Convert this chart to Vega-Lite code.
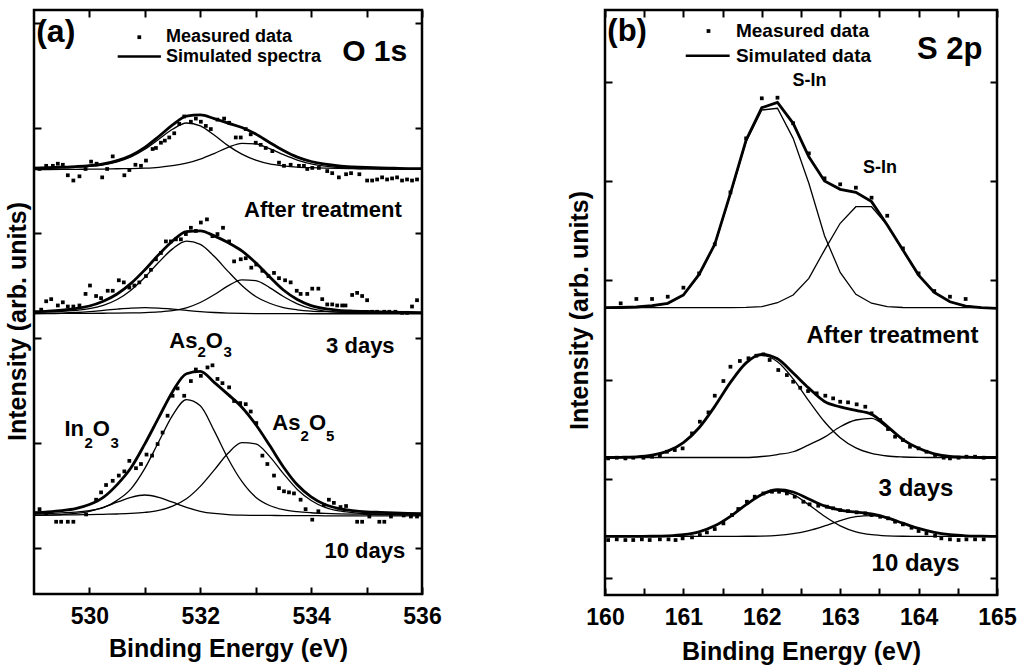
{
  "$schema": "https://vega.github.io/schema/vega-lite/v6.json",
  "background": "white",
  "padding": {"left": 3, "top": 7, "right": 5, "bottom": 5},
  "spacing": 122,
  "config": {
    "font": "Liberation Sans",
    "view": {"stroke": "black", "strokeWidth": 2.5},
    "axis": {"domain": false, "grid": false, "ticks": true, "tickColor": "black", "tickWidth": 2, "tickSize": -7, "labelFont": "Liberation Sans", "labelFontWeight": "bold", "labelFontSize": 23, "labelColor": "black", "titleFont": "Liberation Sans", "titleFontWeight": "bold", "titleFontSize": 25, "titleColor": "black", "labelOverlap": false, "labelFlush": false},
    "text": {"font": "Liberation Sans", "fontWeight": "bold", "color": "black"}
  },
  "datasets": {
    "aL": [
      {"s":"t","x":529,"e":3.618,"c1":3.614,"c2":3.604},
      {"s":"t","x":529.25,"e":3.622,"c1":3.617,"c2":3.605},
      {"s":"t","x":529.5,"e":3.627,"c1":3.621,"c2":3.606},
      {"s":"t","x":529.75,"e":3.633,"c1":3.626,"c2":3.607},
      {"s":"t","x":530,"e":3.642,"c1":3.634,"c2":3.608},
      {"s":"t","x":530.25,"e":3.659,"c1":3.650,"c2":3.609},
      {"s":"t","x":530.5,"e":3.690,"c1":3.678,"c2":3.612},
      {"s":"t","x":530.75,"e":3.739,"c1":3.725,"c2":3.614},
      {"s":"t","x":531,"e":3.816,"c1":3.798,"c2":3.618},
      {"s":"t","x":531.25,"e":3.919,"c1":3.893,"c2":3.626},
      {"s":"t","x":531.5,"e":4.029,"c1":3.988,"c2":3.641},
      {"s":"t","x":531.75,"e":4.113,"c1":4.048,"c2":3.665},
      {"s":"t","x":532,"e":4.125,"c1":4.021,"c2":3.704},
      {"s":"t","x":532.25,"e":4.090,"c1":3.933,"c2":3.757},
      {"s":"t","x":532.5,"e":4.047,"c1":3.832,"c2":3.815},
      {"s":"t","x":532.75,"e":4.005,"c1":3.751,"c2":3.854},
      {"s":"t","x":533,"e":3.943,"c1":3.694,"c2":3.849},
      {"s":"t","x":533.25,"e":3.862,"c1":3.658,"c2":3.804},
      {"s":"t","x":533.5,"e":3.786,"c1":3.640,"c2":3.746},
      {"s":"t","x":533.75,"e":3.723,"c1":3.628,"c2":3.695},
      {"s":"t","x":534,"e":3.681,"c1":3.622,"c2":3.659},
      {"s":"t","x":534.25,"e":3.655,"c1":3.618,"c2":3.637},
      {"s":"t","x":534.5,"e":3.639,"c1":3.615,"c2":3.624},
      {"s":"t","x":534.75,"e":3.630,"c1":3.613,"c2":3.617},
      {"s":"t","x":535,"e":3.624,"c1":3.611,"c2":3.613},
      {"s":"t","x":535.25,"e":3.620,"c1":3.609,"c2":3.611},
      {"s":"t","x":535.5,"e":3.617,"c1":3.608,"c2":3.609},
      {"s":"t","x":535.75,"e":3.614,"c1":3.607,"c2":3.607},
      {"s":"t","x":536,"e":3.613,"c1":3.606,"c2":3.607},
      {"s":"m","x":529,"e":2.252,"c1":2.246,"c2":2.233,"c3":2.233},
      {"s":"m","x":529.25,"e":2.257,"c1":2.249,"c2":2.233,"c3":2.235},
      {"s":"m","x":529.5,"e":2.266,"c1":2.254,"c2":2.234,"c3":2.238},
      {"s":"m","x":529.75,"e":2.281,"c1":2.264,"c2":2.234,"c3":2.243},
      {"s":"m","x":530,"e":2.305,"c1":2.279,"c2":2.235,"c3":2.251},
      {"s":"m","x":530.25,"e":2.350,"c1":2.311,"c2":2.236,"c3":2.263},
      {"s":"m","x":530.5,"e":2.419,"c1":2.367,"c2":2.237,"c3":2.275},
      {"s":"m","x":530.75,"e":2.520,"c1":2.456,"c2":2.239,"c3":2.285},
      {"s":"m","x":531,"e":2.650,"c1":2.578,"c2":2.242,"c3":2.290},
      {"s":"m","x":531.25,"e":2.794,"c1":2.721,"c2":2.248,"c3":2.285},
      {"s":"m","x":531.5,"e":2.924,"c1":2.849,"c2":2.260,"c3":2.275},
      {"s":"m","x":531.75,"e":3.014,"c1":2.923,"c2":2.288,"c3":2.263},
      {"s":"m","x":532,"e":3.021,"c1":2.892,"c2":2.338,"c3":2.251},
      {"s":"m","x":532.25,"e":2.973,"c1":2.778,"c2":2.412,"c3":2.243},
      {"s":"m","x":532.5,"e":2.909,"c1":2.635,"c2":2.496,"c3":2.238},
      {"s":"m","x":532.75,"e":2.830,"c1":2.501,"c2":2.554,"c3":2.235},
      {"s":"m","x":533,"e":2.716,"c1":2.396,"c2":2.547,"c3":2.233},
      {"s":"m","x":533.25,"e":2.583,"c1":2.331,"c2":2.480,"c3":2.232},
      {"s":"m","x":533.5,"e":2.457,"c1":2.290,"c2":2.395,"c3":2.232},
      {"s":"m","x":533.75,"e":2.367,"c1":2.269,"c2":2.326,"c3":2.232},
      {"s":"m","x":534,"e":2.309,"c1":2.257,"c2":2.281,"c3":2.231},
      {"s":"m","x":534.25,"e":2.279,"c1":2.251,"c2":2.257,"c3":2.231},
      {"s":"m","x":534.5,"e":2.264,"c1":2.247,"c2":2.246,"c3":2.231},
      {"s":"m","x":534.75,"e":2.257,"c1":2.245,"c2":2.241,"c3":2.231},
      {"s":"m","x":535,"e":2.253,"c1":2.243,"c2":2.239,"c3":2.231},
      {"s":"m","x":535.25,"e":2.248,"c1":2.241,"c2":2.237,"c3":2.231},
      {"s":"m","x":535.5,"e":2.246,"c1":2.240,"c2":2.236,"c3":2.231},
      {"s":"m","x":535.75,"e":2.243,"c1":2.238,"c2":2.235,"c3":2.231},
      {"s":"m","x":536,"e":2.242,"c1":2.238,"c2":2.234,"c3":2.231},
      {"s":"b","x":529,"e":0.337,"c1":0.324,"c2":0.312,"c3":0.311},
      {"s":"b","x":529.25,"e":0.345,"c1":0.328,"c2":0.314,"c3":0.313},
      {"s":"b","x":529.5,"e":0.357,"c1":0.334,"c2":0.315,"c3":0.318},
      {"s":"b","x":529.75,"e":0.376,"c1":0.341,"c2":0.316,"c3":0.329},
      {"s":"b","x":530,"e":0.414,"c1":0.356,"c2":0.318,"c3":0.350},
      {"s":"b","x":530.25,"e":0.482,"c1":0.384,"c2":0.321,"c3":0.387},
      {"s":"b","x":530.5,"e":0.604,"c1":0.454,"c2":0.324,"c3":0.436},
      {"s":"b","x":530.75,"e":0.764,"c1":0.563,"c2":0.329,"c3":0.482},
      {"s":"b","x":531,"e":0.992,"c1":0.758,"c2":0.339,"c3":0.505},
      {"s":"b","x":531.25,"e":1.242,"c1":1.012,"c2":0.358,"c3":0.482},
      {"s":"b","x":531.5,"e":1.489,"c1":1.264,"c2":0.399,"c3":0.436},
      {"s":"b","x":531.75,"e":1.660,"c1":1.414,"c2":0.469,"c3":0.387},
      {"s":"b","x":532,"e":1.682,"c1":1.355,"c2":0.587,"c3":0.350},
      {"s":"b","x":532.25,"e":1.578,"c1":1.118,"c2":0.741,"c3":0.329},
      {"s":"b","x":532.5,"e":1.463,"c1":0.853,"c2":0.902,"c3":0.318},
      {"s":"b","x":532.75,"e":1.341,"c1":0.634,"c2":1.004,"c3":0.313},
      {"s":"b","x":533,"e":1.176,"c1":0.484,"c2":0.991,"c3":0.311},
      {"s":"b","x":533.25,"e":0.978,"c1":0.405,"c2":0.873,"c3":0.310},
      {"s":"b","x":533.5,"e":0.772,"c1":0.365,"c2":0.708,"c3":0.309},
      {"s":"b","x":533.75,"e":0.602,"c1":0.346,"c2":0.558,"c3":0.308},
      {"s":"b","x":534,"e":0.487,"c1":0.336,"c2":0.453,"c3":0.308},
      {"s":"b","x":534.25,"e":0.414,"c1":0.330,"c2":0.387,"c3":0.307},
      {"s":"b","x":534.5,"e":0.376,"c1":0.326,"c2":0.353,"c3":0.307},
      {"s":"b","x":534.75,"e":0.357,"c1":0.323,"c2":0.337,"c3":0.307},
      {"s":"b","x":535,"e":0.345,"c1":0.321,"c2":0.327,"c3":0.307},
      {"s":"b","x":535.25,"e":0.339,"c1":0.318,"c2":0.324,"c3":0.307},
      {"s":"b","x":535.5,"e":0.334,"c1":0.317,"c2":0.320,"c3":0.307},
      {"s":"b","x":535.75,"e":0.330,"c1":0.315,"c2":0.318,"c3":0.307},
      {"s":"b","x":536,"e":0.327,"c1":0.314,"c2":0.316,"c3":0.307}
    ],
    "aM": [
      {"x":529.10,"y":3.61},{"x":529.22,"y":3.64},{"x":529.34,"y":3.64},{"x":529.43,"y":3.66},{"x":529.52,"y":3.65},{"x":529.61,"y":3.55},{"x":529.71,"y":3.50},{"x":529.82,"y":3.54},{"x":529.93,"y":3.61},{"x":530.03,"y":3.68},{"x":530.13,"y":3.66},{"x":530.23,"y":3.53},{"x":530.32,"y":3.61},{"x":530.42,"y":3.73},{"x":530.63,"y":3.55},{"x":530.72,"y":3.60},{"x":530.83,"y":3.65},{"x":530.93,"y":3.64},{"x":531.02,"y":3.69},{"x":531.14,"y":3.80},{"x":531.20,"y":3.81},{"x":531.29,"y":3.86},{"x":531.36,"y":3.88},{"x":531.44,"y":3.91},{"x":531.53,"y":3.95},{"x":531.62,"y":4.04},{"x":531.71,"y":4.11},{"x":531.83,"y":4.06},{"x":531.92,"y":4.09},{"x":532.01,"y":4.06},{"x":532.10,"y":4.02},{"x":532.19,"y":3.99},{"x":532.31,"y":4.08},{"x":532.43,"y":4.09},{"x":532.52,"y":4.05},{"x":532.64,"y":3.91},{"x":532.73,"y":3.91},{"x":532.82,"y":3.99},{"x":532.91,"y":3.94},{"x":533.00,"y":3.86},{"x":533.09,"y":3.84},{"x":533.18,"y":3.81},{"x":533.30,"y":3.78},{"x":533.42,"y":3.67},{"x":533.51,"y":3.64},{"x":533.63,"y":3.65},{"x":533.78,"y":3.64},{"x":533.87,"y":3.64},{"x":533.93,"y":3.61},{"x":534.02,"y":3.62},{"x":534.14,"y":3.62},{"x":534.29,"y":3.59},{"x":534.38,"y":3.57},{"x":534.50,"y":3.53},{"x":534.63,"y":3.56},{"x":534.72,"y":3.57},{"x":534.87,"y":3.56},{"x":535.01,"y":3.50},{"x":535.10,"y":3.50},{"x":535.19,"y":3.51},{"x":535.28,"y":3.53},{"x":535.37,"y":3.51},{"x":535.46,"y":3.52},{"x":535.55,"y":3.53},{"x":535.64,"y":3.50},{"x":535.73,"y":3.51},{"x":535.82,"y":3.50},{"x":535.91,"y":3.51},
      {"x":529.13,"y":2.27},{"x":529.22,"y":2.35},{"x":529.31,"y":2.37},{"x":529.43,"y":2.31},{"x":529.52,"y":2.34},{"x":529.61,"y":2.30},{"x":529.71,"y":2.30},{"x":529.82,"y":2.31},{"x":529.93,"y":2.42},{"x":530.01,"y":2.50},{"x":530.12,"y":2.40},{"x":530.21,"y":2.38},{"x":530.33,"y":2.45},{"x":530.42,"y":2.45},{"x":530.53,"y":2.55},{"x":530.62,"y":2.53},{"x":530.72,"y":2.48},{"x":530.81,"y":2.50},{"x":530.90,"y":2.53},{"x":531.02,"y":2.59},{"x":531.11,"y":2.65},{"x":531.20,"y":2.75},{"x":531.29,"y":2.81},{"x":531.38,"y":2.92},{"x":531.47,"y":2.92},{"x":531.56,"y":2.94},{"x":531.65,"y":2.94},{"x":531.74,"y":2.99},{"x":531.83,"y":3.05},{"x":531.92,"y":3.02},{"x":532.01,"y":3.10},{"x":532.12,"y":3.13},{"x":532.22,"y":2.97},{"x":532.31,"y":2.99},{"x":532.41,"y":3.05},{"x":532.52,"y":2.92},{"x":532.61,"y":2.73},{"x":532.73,"y":2.75},{"x":532.82,"y":2.76},{"x":532.92,"y":2.67},{"x":533.01,"y":2.70},{"x":533.12,"y":2.64},{"x":533.23,"y":2.59},{"x":533.33,"y":2.62},{"x":533.42,"y":2.57},{"x":533.53,"y":2.55},{"x":533.63,"y":2.53},{"x":533.74,"y":2.45},{"x":533.81,"y":2.42},{"x":533.93,"y":2.42},{"x":534.02,"y":2.47},{"x":534.13,"y":2.47},{"x":534.20,"y":2.37},{"x":534.29,"y":2.32},{"x":534.38,"y":2.32},{"x":534.47,"y":2.31},{"x":534.56,"y":2.31},{"x":534.62,"y":2.31},{"x":534.74,"y":2.41},{"x":534.83,"y":2.43},{"x":534.92,"y":2.40},{"x":535.01,"y":2.36},{"x":535.10,"y":2.25},{"x":535.19,"y":2.25},{"x":535.32,"y":2.25},{"x":535.41,"y":2.25},{"x":535.52,"y":2.25},{"x":535.64,"y":2.24},{"x":535.73,"y":2.24},{"x":535.82,"y":2.30},{"x":535.91,"y":2.36},
      {"x":529.10,"y":0.37},{"x":529.22,"y":0.33},{"x":529.40,"y":0.25},{"x":529.49,"y":0.25},{"x":529.61,"y":0.25},{"x":529.71,"y":0.25},{"x":529.94,"y":0.32},{"x":530.12,"y":0.46},{"x":530.21,"y":0.53},{"x":530.30,"y":0.60},{"x":530.42,"y":0.64},{"x":530.53,"y":0.69},{"x":530.63,"y":0.73},{"x":530.72,"y":0.83},{"x":530.84,"y":0.76},{"x":530.93,"y":0.80},{"x":531.03,"y":0.89},{"x":531.13,"y":0.88},{"x":531.23,"y":0.99},{"x":531.32,"y":1.10},{"x":531.41,"y":1.26},{"x":531.50,"y":1.45},{"x":531.59,"y":1.52},{"x":531.71,"y":1.45},{"x":531.83,"y":1.59},{"x":531.92,"y":1.70},{"x":532.01,"y":1.64},{"x":532.13,"y":1.72},{"x":532.22,"y":1.74},{"x":532.31,"y":1.61},{"x":532.40,"y":1.57},{"x":532.52,"y":1.53},{"x":532.61,"y":1.40},{"x":532.72,"y":1.38},{"x":532.82,"y":1.37},{"x":532.91,"y":1.30},{"x":533.01,"y":1.19},{"x":533.12,"y":0.88},{"x":533.21,"y":0.80},{"x":533.33,"y":0.69},{"x":533.42,"y":0.57},{"x":533.51,"y":0.54},{"x":533.60,"y":0.53},{"x":533.69,"y":0.52},{"x":533.81,"y":0.46},{"x":533.90,"y":0.37},{"x":534.02,"y":0.27},{"x":534.13,"y":0.35},{"x":534.23,"y":0.41},{"x":534.32,"y":0.46},{"x":534.41,"y":0.43},{"x":534.53,"y":0.39},{"x":534.63,"y":0.40},{"x":534.83,"y":0.25},{"x":534.92,"y":0.25},{"x":535.05,"y":0.30},{"x":535.23,"y":0.25},{"x":535.32,"y":0.25},{"x":535.44,"y":0.30},{"x":535.67,"y":0.31},{"x":535.80,"y":0.30},{"x":535.91,"y":0.30}
    ],
    "bL": [
      {"s":"t","x":160.0,"e":2.725,"c1":2.725,"c2":2.725},
      {"s":"t","x":160.2,"e":2.727,"c1":2.727,"c2":2.725},
      {"s":"t","x":160.4,"e":2.732,"c1":2.731,"c2":2.725},
      {"s":"t","x":160.6,"e":2.745,"c1":2.742,"c2":2.725},
      {"s":"t","x":160.8,"e":2.769,"c1":2.765,"c2":2.725},
      {"s":"t","x":161.0,"e":2.853,"c1":2.848,"c2":2.725},
      {"s":"t","x":161.2,"e":3.061,"c1":3.055,"c2":2.725},
      {"s":"t","x":161.4,"e":3.364,"c1":3.356,"c2":2.725},
      {"s":"t","x":161.6,"e":3.878,"c1":3.868,"c2":2.725},
      {"s":"t","x":161.8,"e":4.415,"c1":4.400,"c2":2.728},
      {"s":"t","x":162.0,"e":4.741,"c1":4.718,"c2":2.735},
      {"s":"t","x":162.2,"e":4.795,"c1":4.735,"c2":2.775},
      {"s":"t","x":162.4,"e":4.584,"c1":4.432,"c2":2.853},
      {"s":"t","x":162.6,"e":4.247,"c1":3.980,"c2":3.021},
      {"s":"t","x":162.8,"e":4.002,"c1":3.450,"c2":3.306},
      {"s":"t","x":163.0,"e":3.918,"c1":3.080,"c2":3.576},
      {"s":"t","x":163.2,"e":3.888,"c1":2.860,"c2":3.743},
      {"s":"t","x":163.4,"e":3.794,"c1":2.770,"c2":3.743},
      {"s":"t","x":163.6,"e":3.558,"c1":2.735,"c2":3.558},
      {"s":"t","x":163.8,"e":3.306,"c1":2.727,"c2":3.306},
      {"s":"t","x":164.0,"e":3.054,"c1":2.725,"c2":3.054},
      {"s":"t","x":164.2,"e":2.880,"c1":2.725,"c2":2.880},
      {"s":"t","x":164.4,"e":2.785,"c1":2.725,"c2":2.785},
      {"s":"t","x":164.6,"e":2.742,"c1":2.725,"c2":2.742},
      {"s":"t","x":164.8,"e":2.725,"c1":2.725,"c2":2.727},
      {"s":"t","x":165.0,"e":2.719,"c1":2.725,"c2":2.725},
      {"s":"m","x":160.0,"e":1.215,"c1":1.215,"c2":1.215},
      {"s":"m","x":160.2,"e":1.217,"c1":1.217,"c2":1.215},
      {"s":"m","x":160.4,"e":1.222,"c1":1.222,"c2":1.215},
      {"s":"m","x":160.6,"e":1.239,"c1":1.239,"c2":1.215},
      {"s":"m","x":160.8,"e":1.279,"c1":1.279,"c2":1.215},
      {"s":"m","x":161.0,"e":1.365,"c1":1.365,"c2":1.215},
      {"s":"m","x":161.2,"e":1.515,"c1":1.515,"c2":1.215},
      {"s":"m","x":161.4,"e":1.730,"c1":1.730,"c2":1.215},
      {"s":"m","x":161.6,"e":1.972,"c1":1.972,"c2":1.215},
      {"s":"m","x":161.8,"e":2.169,"c1":2.169,"c2":1.215},
      {"s":"m","x":162.0,"e":2.255,"c1":2.245,"c2":1.225},
      {"s":"m","x":162.2,"e":2.210,"c1":2.180,"c2":1.245},
      {"s":"m","x":162.4,"e":2.066,"c1":2.008,"c2":1.273},
      {"s":"m","x":162.6,"e":1.914,"c1":1.786,"c2":1.343},
      {"s":"m","x":162.8,"e":1.780,"c1":1.575,"c2":1.420},
      {"s":"m","x":163.0,"e":1.725,"c1":1.415,"c2":1.525},
      {"s":"m","x":163.2,"e":1.690,"c1":1.312,"c2":1.593},
      {"s":"m","x":163.4,"e":1.651,"c1":1.256,"c2":1.610},
      {"s":"m","x":163.6,"e":1.530,"c1":1.230,"c2":1.515},
      {"s":"m","x":163.8,"e":1.396,"c1":1.220,"c2":1.391},
      {"s":"m","x":164.0,"e":1.308,"c1":1.216,"c2":1.307},
      {"s":"m","x":164.2,"e":1.252,"c1":1.215,"c2":1.252},
      {"s":"m","x":164.4,"e":1.225,"c1":1.215,"c2":1.225},
      {"s":"m","x":164.6,"e":1.218,"c1":1.215,"c2":1.218},
      {"s":"m","x":164.8,"e":1.215,"c1":1.215,"c2":1.215},
      {"s":"m","x":165.0,"e":1.215,"c1":1.215,"c2":1.215},
      {"s":"b","x":160.0,"e":0.420,"c1":0.420,"c2":0.420},
      {"s":"b","x":160.2,"e":0.420,"c1":0.420,"c2":0.420},
      {"s":"b","x":160.4,"e":0.420,"c1":0.420,"c2":0.420},
      {"s":"b","x":160.6,"e":0.421,"c1":0.421,"c2":0.420},
      {"s":"b","x":160.8,"e":0.425,"c1":0.425,"c2":0.420},
      {"s":"b","x":161.0,"e":0.437,"c1":0.437,"c2":0.420},
      {"s":"b","x":161.2,"e":0.466,"c1":0.466,"c2":0.420},
      {"s":"b","x":161.4,"e":0.526,"c1":0.526,"c2":0.420},
      {"s":"b","x":161.6,"e":0.622,"c1":0.622,"c2":0.420},
      {"s":"b","x":161.8,"e":0.740,"c1":0.739,"c2":0.421},
      {"s":"b","x":162.0,"e":0.843,"c1":0.840,"c2":0.423},
      {"s":"b","x":162.2,"e":0.890,"c1":0.880,"c2":0.430},
      {"s":"b","x":162.4,"e":0.867,"c1":0.840,"c2":0.447},
      {"s":"b","x":162.6,"e":0.797,"c1":0.739,"c2":0.478},
      {"s":"b","x":162.8,"e":0.727,"c1":0.622,"c2":0.525},
      {"s":"b","x":163.0,"e":0.685,"c1":0.526,"c2":0.579},
      {"s":"b","x":163.2,"e":0.665,"c1":0.466,"c2":0.619},
      {"s":"b","x":163.4,"e":0.646,"c1":0.437,"c2":0.629},
      {"s":"b","x":163.6,"e":0.607,"c1":0.425,"c2":0.602},
      {"s":"b","x":163.8,"e":0.553,"c1":0.421,"c2":0.552},
      {"s":"b","x":164.0,"e":0.500,"c1":0.420,"c2":0.500},
      {"s":"b","x":164.2,"e":0.460,"c1":0.420,"c2":0.460},
      {"s":"b","x":164.4,"e":0.437,"c1":0.420,"c2":0.437},
      {"s":"b","x":164.6,"e":0.426,"c1":0.420,"c2":0.426},
      {"s":"b","x":164.8,"e":0.422,"c1":0.420,"c2":0.422},
      {"s":"b","x":165.0,"e":0.420,"c1":0.420,"c2":0.420}
    ],
    "bM": [
      {"x":160.2,"y":2.769},{"x":160.4,"y":2.813},{"x":160.6,"y":2.813},{"x":160.8,"y":2.836},{"x":161.0,"y":2.927},{"x":161.2,"y":3.071},{"x":161.4,"y":3.364},{"x":161.6,"y":3.888},{"x":161.8,"y":4.432},{"x":162.0,"y":4.836},{"x":162.2,"y":4.842},{"x":162.4,"y":4.584},{"x":162.6,"y":4.281},{"x":162.8,"y":4.029},{"x":163.0,"y":3.969},{"x":163.2,"y":3.935},{"x":163.4,"y":3.834},{"x":163.6,"y":3.652},{"x":163.8,"y":3.323},{"x":164.0,"y":3.071},{"x":164.2,"y":2.893},{"x":164.4,"y":2.836},{"x":164.6,"y":2.813},
      {"x":160.04,"y":1.206},{"x":160.15,"y":1.213},{"x":160.26,"y":1.206},{"x":160.36,"y":1.213},{"x":160.49,"y":1.213},{"x":160.60,"y":1.223},{"x":160.70,"y":1.233},{"x":160.79,"y":1.273},{"x":160.89,"y":1.290},{"x":160.99,"y":1.307},{"x":161.11,"y":1.458},{"x":161.21,"y":1.576},{"x":161.32,"y":1.670},{"x":161.40,"y":1.838},{"x":161.51,"y":1.986},{"x":161.60,"y":2.130},{"x":161.72,"y":2.188},{"x":161.83,"y":2.215},{"x":161.93,"y":2.241},{"x":162.02,"y":2.255},{"x":162.10,"y":2.198},{"x":162.21,"y":2.097},{"x":162.32,"y":2.046},{"x":162.40,"y":1.979},{"x":162.49,"y":1.918},{"x":162.59,"y":1.885},{"x":162.70,"y":1.862},{"x":162.81,"y":1.838},{"x":162.91,"y":1.811},{"x":163.00,"y":1.777},{"x":163.10,"y":1.771},{"x":163.21,"y":1.751},{"x":163.32,"y":1.727},{"x":163.40,"y":1.660},{"x":163.51,"y":1.593},{"x":163.61,"y":1.502},{"x":163.70,"y":1.425},{"x":163.80,"y":1.391},{"x":163.89,"y":1.324},{"x":164.00,"y":1.307},{"x":164.10,"y":1.273},{"x":164.21,"y":1.240},{"x":164.32,"y":1.213},{"x":164.40,"y":1.206},{"x":164.51,"y":1.213},{"x":164.61,"y":1.223},{"x":164.72,"y":1.223},{"x":164.83,"y":1.213},
      {"x":160.04,"y":0.383},{"x":160.15,"y":0.390},{"x":160.26,"y":0.383},{"x":160.36,"y":0.383},{"x":160.47,"y":0.390},{"x":160.57,"y":0.383},{"x":160.70,"y":0.390},{"x":160.81,"y":0.390},{"x":160.90,"y":0.383},{"x":160.99,"y":0.400},{"x":161.11,"y":0.410},{"x":161.21,"y":0.433},{"x":161.30,"y":0.460},{"x":161.40,"y":0.494},{"x":161.51,"y":0.551},{"x":161.62,"y":0.635},{"x":161.70,"y":0.696},{"x":161.81,"y":0.769},{"x":161.91,"y":0.820},{"x":162.02,"y":0.853},{"x":162.13,"y":0.870},{"x":162.22,"y":0.870},{"x":162.32,"y":0.853},{"x":162.42,"y":0.820},{"x":162.53,"y":0.769},{"x":162.61,"y":0.743},{"x":162.72,"y":0.729},{"x":162.83,"y":0.719},{"x":162.91,"y":0.703},{"x":163.00,"y":0.685},{"x":163.10,"y":0.675},{"x":163.21,"y":0.662},{"x":163.32,"y":0.652},{"x":163.40,"y":0.635},{"x":163.51,"y":0.618},{"x":163.61,"y":0.602},{"x":163.70,"y":0.568},{"x":163.80,"y":0.541},{"x":163.91,"y":0.507},{"x":164.00,"y":0.474},{"x":164.10,"y":0.450},{"x":164.21,"y":0.426},{"x":164.29,"y":0.400},{"x":164.40,"y":0.390},{"x":164.51,"y":0.383},{"x":164.61,"y":0.390},{"x":164.72,"y":0.390},{"x":164.83,"y":0.390}
    ]
  },
  "hconcat": [
    {
      "width": 388,
      "height": 584,
      "layer": [
        {
          "data": {"name": "aL"},
          "transform": [{"fold": ["c1", "c2", "c3"], "as": ["k", "y"]}, {"filter": "isValid(datum.y)"}],
          "mark": {"type": "line", "color": "black", "strokeWidth": 1.3, "interpolate": "monotone"},
          "encoding": {
            "x": {"field": "x", "type": "quantitative", "scale": {"domain": [529, 536], "nice": false, "zero": false},
                  "axis": {"orient": "bottom", "values": [530, 531, 532, 533, 534, 535, 536], "labelExpr": "datum.value % 2 === 0 ? '' + datum.value : ''", "title": "Binding Energy (eV)", "labelPadding": 18, "titlePadding": 8}},
            "y": {"field": "y", "type": "quantitative", "scale": {"domain": [-0.438, 5.124], "nice": false, "zero": false},
                  "axis": {"orient": "left", "values": [0, 1, 2, 3, 4, 5], "labels": false, "title": "Intensity (arb. units)", "titlePadding": 3, "titleY": 311}},
            "detail": [{"field": "s"}, {"field": "k"}]
          }
        },
        {
          "data": {"name": "aL"},
          "mark": {"type": "line", "color": "black", "strokeWidth": 2.8, "interpolate": "monotone"},
          "encoding": {
            "x": {"field": "x", "type": "quantitative", "scale": {"domain": [529, 536], "nice": false, "zero": false}, "axis": null},
            "y": {"field": "e", "type": "quantitative", "scale": {"domain": [-0.438, 5.124], "nice": false, "zero": false}, "axis": null},
            "detail": {"field": "s"}
          }
        },
        {
          "data": {"name": "aM"},
          "mark": {"type": "point", "shape": "square", "filled": true, "size": 14, "color": "black", "opacity": 1},
          "encoding": {
            "x": {"field": "x", "type": "quantitative", "scale": {"domain": [529, 536], "nice": false, "zero": false}, "axis": null},
            "y": {"field": "y", "type": "quantitative", "scale": {"domain": [-0.438, 5.124], "nice": false, "zero": false}, "axis": null}
          }
        },
        {
          "data": {"values": [{"x": 530.90, "y": 4.865}]},
          "mark": {"type": "point", "shape": "square", "filled": true, "size": 14, "color": "black", "opacity": 1},
          "encoding": {
            "x": {"field": "x", "type": "quantitative", "scale": {"domain": [529, 536], "nice": false, "zero": false}, "axis": null},
            "y": {"field": "y", "type": "quantitative", "scale": {"domain": [-0.438, 5.124], "nice": false, "zero": false}, "axis": null}
          }
        },
        {
          "data": {"values": [{"x": 530.51, "x2": 531.29, "y": 4.68}]},
          "mark": {"type": "rule", "color": "black", "strokeWidth": 2.5},
          "encoding": {
            "x": {"field": "x", "type": "quantitative", "scale": {"domain": [529, 536], "nice": false, "zero": false}, "axis": null},
            "x2": {"field": "x2"},
            "y": {"field": "y", "type": "quantitative", "scale": {"domain": [-0.438, 5.124], "nice": false, "zero": false}, "axis": null}
          }
        },
        {
          "data": {"values": [{"x": 531.38, "y": 4.87, "t": "Measured data"}, {"x": 531.38, "y": 4.675, "t": "Simulated spectra"}]},
          "mark": {"type": "text", "align": "left", "baseline": "middle", "fontSize": 18, "fontWeight": "bold"},
          "encoding": {
            "x": {"field": "x", "type": "quantitative", "scale": {"domain": [529, 536], "nice": false, "zero": false}, "axis": null},
            "y": {"field": "y", "type": "quantitative", "scale": {"domain": [-0.438, 5.124], "nice": false, "zero": false}, "axis": null},
            "text": {"field": "t"}
          }
        },
        {
          "data": {"values": [{"x": 529.04, "y": 4.91, "t": "(a)"}]},
          "mark": {"type": "text", "align": "left", "baseline": "middle", "fontSize": 32, "fontWeight": "bold"},
          "encoding": {
            "x": {"field": "x", "type": "quantitative", "scale": {"domain": [529, 536], "nice": false, "zero": false}, "axis": null},
            "y": {"field": "y", "type": "quantitative", "scale": {"domain": [-0.438, 5.124], "nice": false, "zero": false}, "axis": null},
            "text": {"field": "t"}
          }
        },
        {
          "data": {"values": [{"x": 534.56, "y": 4.72, "t": "O 1s"}]},
          "mark": {"type": "text", "align": "left", "baseline": "middle", "fontSize": 30, "fontWeight": "bold"},
          "encoding": {
            "x": {"field": "x", "type": "quantitative", "scale": {"domain": [529, 536], "nice": false, "zero": false}, "axis": null},
            "y": {"field": "y", "type": "quantitative", "scale": {"domain": [-0.438, 5.124], "nice": false, "zero": false}, "axis": null},
            "text": {"field": "t"}
          }
        },
        {
          "data": {"values": [
            {"x": 532.79, "y": 3.22, "t": "After treatment"},
            {"x": 534.27, "y": 1.92, "t": "3 days"},
            {"x": 534.24, "y": -0.03, "t": "10 days"}
          ]},
          "mark": {"type": "text", "align": "left", "baseline": "middle", "fontSize": 22, "fontWeight": "bold"},
          "encoding": {
            "x": {"field": "x", "type": "quantitative", "scale": {"domain": [529, 536], "nice": false, "zero": false}, "axis": null},
            "y": {"field": "y", "type": "quantitative", "scale": {"domain": [-0.438, 5.124], "nice": false, "zero": false}, "axis": null},
            "text": {"field": "t"}
          }
        },
        {
          "data": {"values": [
            {"x": 531.44, "y": 1.971, "t": "As"},
            {"x": 532.10, "y": 1.971, "t": "O"},
            {"x": 529.55, "y": 1.133, "t": "In"},
            {"x": 530.06, "y": 1.133, "t": "O"},
            {"x": 533.30, "y": 1.19, "t": "As"},
            {"x": 533.96, "y": 1.19, "t": "O"}
          ]},
          "mark": {"type": "text", "align": "left", "baseline": "middle", "fontSize": 22, "fontWeight": "bold"},
          "encoding": {
            "x": {"field": "x", "type": "quantitative", "scale": {"domain": [529, 536], "nice": false, "zero": false}, "axis": null},
            "y": {"field": "y", "type": "quantitative", "scale": {"domain": [-0.438, 5.124], "nice": false, "zero": false}, "axis": null},
            "text": {"field": "t"}
          }
        },
        {
          "data": {"values": [
            {"x": 531.95, "y": 1.867, "t": "2"},
            {"x": 532.42, "y": 1.867, "t": "3"},
            {"x": 529.91, "y": 1.0, "t": "2"},
            {"x": 530.38, "y": 1.0, "t": "3"},
            {"x": 533.81, "y": 1.067, "t": "2"},
            {"x": 534.27, "y": 1.067, "t": "5"}
          ]},
          "mark": {"type": "text", "align": "left", "baseline": "middle", "fontSize": 15, "fontWeight": "bold"},
          "encoding": {
            "x": {"field": "x", "type": "quantitative", "scale": {"domain": [529, 536], "nice": false, "zero": false}, "axis": null},
            "y": {"field": "y", "type": "quantitative", "scale": {"domain": [-0.438, 5.124], "nice": false, "zero": false}, "axis": null},
            "text": {"field": "t"}
          }
        },
        {
          "data": {"values": [{"x": 530, "y": 0}]},
          "mark": {"type": "point", "opacity": 0},
          "encoding": {
            "x": {"field": "x", "type": "quantitative", "scale": {"domain": [529, 536], "nice": false, "zero": false},
                  "axis": {"orient": "top", "values": [530, 531, 532, 533, 534, 535, 536], "labels": false, "title": null}},
            "y": {"field": "y", "type": "quantitative", "scale": {"domain": [-0.438, 5.124], "nice": false, "zero": false},
                  "axis": {"orient": "right", "values": [0, 1, 2, 3, 4, 5], "labels": false, "title": null}}
          }
        }
      ],
      "resolve": {"axis": {"x": "independent", "y": "independent"}}
    },
    {
      "width": 392,
      "height": 585,
      "layer": [
        {
          "data": {"name": "bL"},
          "transform": [{"filter": "datum.s !== 't'"}, {"fold": ["c1", "c2"], "as": ["k", "y"]}],
          "mark": {"type": "line", "color": "black", "strokeWidth": 1.3, "interpolate": "monotone"},
          "encoding": {
            "x": {"field": "x", "type": "quantitative", "scale": {"domain": [160, 165], "nice": false, "zero": false},
                  "axis": {"orient": "bottom", "values": [160, 160.5, 161, 161.5, 162, 162.5, 163, 163.5, 164, 164.5, 165], "labelExpr": "datum.value % 1 === 0 ? '' + datum.value : ''", "title": "Binding Energy (eV)", "labelPadding": 18, "titlePadding": 10}},
            "y": {"field": "y", "type": "quantitative", "scale": {"domain": [-0.171, 5.726], "nice": false, "zero": false},
                  "axis": {"orient": "left", "values": [0, 1, 2, 3, 4, 5], "labels": false, "title": "Intensity (arb. units)", "titlePadding": 12, "titleY": 300}},
            "detail": [{"field": "s"}, {"field": "k"}]
          }
        },
        {
          "data": {"name": "bL"},
          "transform": [{"filter": "datum.s === 't'"}, {"fold": ["c1", "c2"], "as": ["k", "y"]}],
          "mark": {"type": "line", "color": "black", "strokeWidth": 1.3, "interpolate": "linear"},
          "encoding": {
            "x": {"field": "x", "type": "quantitative", "scale": {"domain": [160, 165], "nice": false, "zero": false}, "axis": null},
            "y": {"field": "y", "type": "quantitative", "scale": {"domain": [-0.171, 5.726], "nice": false, "zero": false}, "axis": null},
            "detail": {"field": "k"}
          }
        },
        {
          "data": {"name": "bL"},
          "transform": [{"filter": "datum.s !== 't'"}],
          "mark": {"type": "line", "color": "black", "strokeWidth": 2.8, "interpolate": "monotone"},
          "encoding": {
            "x": {"field": "x", "type": "quantitative", "scale": {"domain": [160, 165], "nice": false, "zero": false}, "axis": null},
            "y": {"field": "e", "type": "quantitative", "scale": {"domain": [-0.171, 5.726], "nice": false, "zero": false}, "axis": null},
            "detail": {"field": "s"}
          }
        },
        {
          "data": {"name": "bL"},
          "transform": [{"filter": "datum.s === 't'"}],
          "mark": {"type": "line", "color": "black", "strokeWidth": 2.8, "interpolate": "linear"},
          "encoding": {
            "x": {"field": "x", "type": "quantitative", "scale": {"domain": [160, 165], "nice": false, "zero": false}, "axis": null},
            "y": {"field": "e", "type": "quantitative", "scale": {"domain": [-0.171, 5.726], "nice": false, "zero": false}, "axis": null}
          }
        },
        {
          "data": {"name": "bM"},
          "mark": {"type": "point", "shape": "square", "filled": true, "size": 14, "color": "black", "opacity": 1},
          "encoding": {
            "x": {"field": "x", "type": "quantitative", "scale": {"domain": [160, 165], "nice": false, "zero": false}, "axis": null},
            "y": {"field": "y", "type": "quantitative", "scale": {"domain": [-0.171, 5.726], "nice": false, "zero": false}, "axis": null}
          }
        },
        {
          "data": {"values": [{"x": 161.32, "y": 5.514}]},
          "mark": {"type": "point", "shape": "square", "filled": true, "size": 14, "color": "black", "opacity": 1},
          "encoding": {
            "x": {"field": "x", "type": "quantitative", "scale": {"domain": [160, 165], "nice": false, "zero": false}, "axis": null},
            "y": {"field": "y", "type": "quantitative", "scale": {"domain": [-0.171, 5.726], "nice": false, "zero": false}, "axis": null}
          }
        },
        {
          "data": {"values": [{"x": 161.03, "x2": 161.59, "y": 5.265}]},
          "mark": {"type": "rule", "color": "black", "strokeWidth": 2.5},
          "encoding": {
            "x": {"field": "x", "type": "quantitative", "scale": {"domain": [160, 165], "nice": false, "zero": false}, "axis": null},
            "x2": {"field": "x2"},
            "y": {"field": "y", "type": "quantitative", "scale": {"domain": [-0.171, 5.726], "nice": false, "zero": false}, "axis": null}
          }
        },
        {
          "data": {"values": [{"x": 161.67, "y": 5.514, "t": "Measured data"}, {"x": 161.67, "y": 5.265, "t": "Simulated data"}]},
          "mark": {"type": "text", "align": "left", "baseline": "middle", "fontSize": 19, "fontWeight": "bold"},
          "encoding": {
            "x": {"field": "x", "type": "quantitative", "scale": {"domain": [160, 165], "nice": false, "zero": false}, "axis": null},
            "y": {"field": "y", "type": "quantitative", "scale": {"domain": [-0.171, 5.726], "nice": false, "zero": false}, "axis": null},
            "text": {"field": "t"}
          }
        },
        {
          "data": {"values": [{"x": 160.03, "y": 5.504, "t": "(b)"}]},
          "mark": {"type": "text", "align": "left", "baseline": "middle", "fontSize": 31, "fontWeight": "bold"},
          "encoding": {
            "x": {"field": "x", "type": "quantitative", "scale": {"domain": [160, 165], "nice": false, "zero": false}, "axis": null},
            "y": {"field": "y", "type": "quantitative", "scale": {"domain": [-0.171, 5.726], "nice": false, "zero": false}, "axis": null},
            "text": {"field": "t"}
          }
        },
        {
          "data": {"values": [{"x": 163.98, "y": 5.32, "t": "S 2p"}]},
          "mark": {"type": "text", "align": "left", "baseline": "middle", "fontSize": 31, "fontWeight": "bold"},
          "encoding": {
            "x": {"field": "x", "type": "quantitative", "scale": {"domain": [160, 165], "nice": false, "zero": false}, "axis": null},
            "y": {"field": "y", "type": "quantitative", "scale": {"domain": [-0.171, 5.726], "nice": false, "zero": false}, "axis": null},
            "text": {"field": "t"}
          }
        },
        {
          "data": {"values": [{"x": 162.39, "y": 5.01, "t": "S-In"}, {"x": 163.29, "y": 4.136, "t": "S-In"}]},
          "mark": {"type": "text", "align": "left", "baseline": "middle", "fontSize": 18, "fontWeight": "bold"},
          "encoding": {
            "x": {"field": "x", "type": "quantitative", "scale": {"domain": [160, 165], "nice": false, "zero": false}, "axis": null},
            "y": {"field": "y", "type": "quantitative", "scale": {"domain": [-0.171, 5.726], "nice": false, "zero": false}, "axis": null},
            "text": {"field": "t"}
          }
        },
        {
          "data": {"values": [{"x": 162.57, "y": 2.44, "t": "After treatment"}, {"x": 163.49, "y": 0.90, "t": "3 days"}, {"x": 163.40, "y": 0.138, "t": "10 days"}]},
          "mark": {"type": "text", "align": "left", "baseline": "middle", "fontSize": 24, "fontWeight": "bold"},
          "encoding": {
            "x": {"field": "x", "type": "quantitative", "scale": {"domain": [160, 165], "nice": false, "zero": false}, "axis": null},
            "y": {"field": "y", "type": "quantitative", "scale": {"domain": [-0.171, 5.726], "nice": false, "zero": false}, "axis": null},
            "text": {"field": "t"}
          }
        },
        {
          "data": {"values": [{"x": 160, "y": 0}]},
          "mark": {"type": "point", "opacity": 0},
          "encoding": {
            "x": {"field": "x", "type": "quantitative", "scale": {"domain": [160, 165], "nice": false, "zero": false},
                  "axis": {"orient": "top", "values": [160, 160.5, 161, 161.5, 162, 162.5, 163, 163.5, 164, 164.5, 165], "labels": false, "title": null}},
            "y": {"field": "y", "type": "quantitative", "scale": {"domain": [-0.171, 5.726], "nice": false, "zero": false},
                  "axis": {"orient": "right", "values": [0, 1, 2, 3, 4, 5], "labels": false, "title": null}}
          }
        }
      ],
      "resolve": {"axis": {"x": "independent", "y": "independent"}}
    }
  ]
}
